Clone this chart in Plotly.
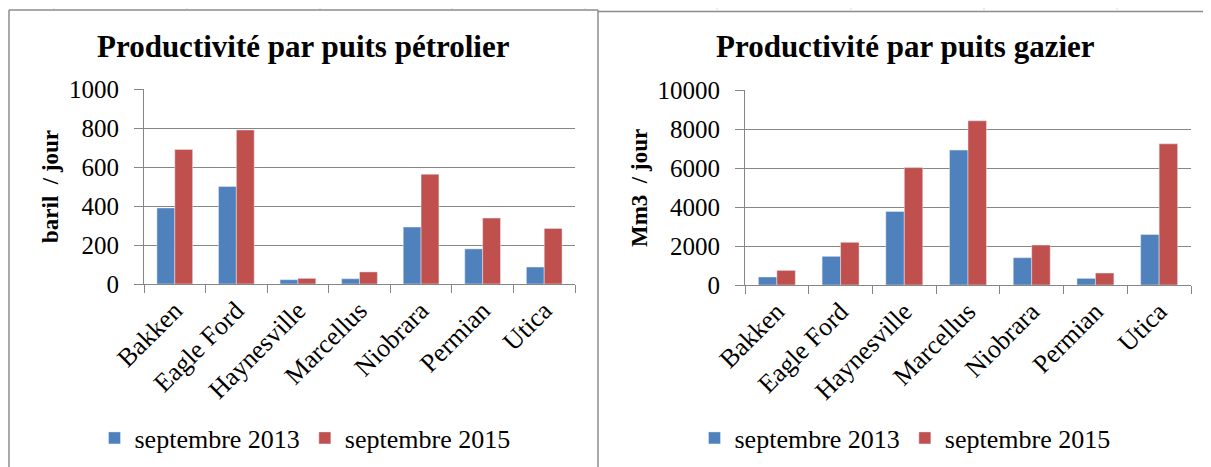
import plotly.graph_objects as go

# ---- data ----
basins = ["Bakken", "Eagle Ford", "Haynesville", "Marcellus", "Niobrara", "Permian", "Utica"]
series_names = ["septembre 2013", "septembre 2015"]
oil_2013 = [390, 500, 22, 27, 292, 180, 87]
oil_2015 = [690, 790, 29, 62, 563, 338, 285]
gas_2013 = [410, 1470, 3770, 6920, 1400, 340, 2590]
gas_2015 = [750, 2190, 6020, 8420, 2050, 615, 7240]
oil_ticks = [0, 200, 400, 600, 800, 1000]
gas_ticks = [0, 2000, 4000, 6000, 8000, 10000]
oil_title = "Productivité par puits pétrolier"
gas_title = "Productivité par puits gazier"
oil_unit = "baril  / jour"
gas_unit = "Mm3  / jour"

BLUE = "#4F81BD"
RED = "#C0504D"
FONT = "Liberation Serif"
OFF = 8                      # page body margin
W, H = 1211 - OFF, 467 - OFF

fig = go.Figure()
fig.add_trace(go.Bar(x=basins, y=oil_2013, name=series_names[0], marker_color=BLUE,
                     xaxis="x", yaxis="y", legend="legend"))
fig.add_trace(go.Bar(x=basins, y=oil_2015, name=series_names[1], marker_color=RED,
                     xaxis="x", yaxis="y", legend="legend"))
fig.add_trace(go.Bar(x=basins, y=gas_2013, name=series_names[0], marker_color=BLUE,
                     xaxis="x2", yaxis="y2", legend="legend2"))
fig.add_trace(go.Bar(x=basins, y=gas_2015, name=series_names[1], marker_color=RED,
                     xaxis="x2", yaxis="y2", legend="legend2"))

def px(x):
    return (x - OFF) / W

def py(y):
    return 1 - (y - OFF) / H

axis_common = dict(showline=True, linecolor="#868686", linewidth=1, automargin=False,
                   tickfont=dict(family=FONT, size=25, color="black"))
xcommon = dict(axis_common, tickangle=-45, ticks="outside", tickson="boundaries",
               ticklen=8, tickcolor="#868686", showgrid=False, fixedrange=True,
               tickfont=dict(family=FONT, size=26, color="black"))
ycommon = dict(axis_common, ticks="outside", ticklen=9, tickcolor="#868686",
               showgrid=True, gridcolor="#868686", gridwidth=1, zeroline=False,
               ticklabelstandoff=10, tickformat="d", fixedrange=True)

fig.update_layout(
    width=W, height=H,
    margin=dict(l=0, r=0, t=0, b=0, autoexpand=False),
    paper_bgcolor="white", plot_bgcolor="white",
    barmode="group", bargap=0.42, bargroupgap=0,
    font=dict(family=FONT, color="black"),
    xaxis=dict(xcommon, domain=[px(144), px(575)], anchor="y"),
    yaxis=dict(ycommon, domain=[py(284), py(89)], anchor="x",
               range=[0, 1000], tickvals=oil_ticks),
    xaxis2=dict(xcommon, domain=[px(745), px(1191)], anchor="y2"),
    yaxis2=dict(ycommon, domain=[py(285), py(90)], anchor="x2",
                range=[0, 10000], tickvals=gas_ticks),
    legend=dict(orientation="h", x=px(305), xanchor="center", y=py(438), yanchor="middle",
                font=dict(family=FONT, size=26), itemwidth=30, tracegroupgap=0,
                bgcolor="rgba(0,0,0,0)"),
    legend2=dict(orientation="h", x=px(905), xanchor="center", y=py(438), yanchor="middle",
                 font=dict(family=FONT, size=26), itemwidth=30, tracegroupgap=0,
                 bgcolor="rgba(0,0,0,0)"),
    annotations=[
        dict(text="<b>%s</b>" % oil_title, x=px(303), y=py(46), xref="paper", yref="paper",
             showarrow=False, font=dict(family=FONT, size=31), xanchor="center", yanchor="middle"),
        dict(text="<b>%s</b>" % gas_title, x=px(905), y=py(46), xref="paper", yref="paper",
             showarrow=False, font=dict(family=FONT, size=31), xanchor="center", yanchor="middle"),
        dict(text="<b>%s</b>" % oil_unit, x=px(50), y=py(187), xref="paper", yref="paper",
             showarrow=False, font=dict(family=FONT, size=23), textangle=-90,
             xanchor="center", yanchor="middle"),
        dict(text="<b>%s</b>" % gas_unit, x=px(640), y=py(188), xref="paper", yref="paper",
             showarrow=False, font=dict(family=FONT, size=23), textangle=-90,
             xanchor="center", yanchor="middle"),
    ],
)

# chart frames and faint spreadsheet cell lines
shapes = []
for gx in [54, 187, 320, 452, 585, 717, 851, 984, 1117]:
    shapes.append(dict(type="line", xref="paper", yref="paper", x0=px(gx), x1=px(gx),
                       y0=py(OFF), y1=py(10), line=dict(color="#D9D9D9", width=1)))
shapes.append(dict(type="line", xref="paper", yref="paper", x0=px(9), x1=px(9),
                   y0=py(10), y1=py(467), line=dict(color="#8C8C8C", width=1.5)))
shapes.append(dict(type="line", xref="paper", yref="paper", x0=px(9), x1=px(598),
                   y0=py(10), y1=py(10), line=dict(color="#8C8C8C", width=1.5)))
shapes.append(dict(type="line", xref="paper", yref="paper", x0=px(598), x1=px(598),
                   y0=py(10), y1=py(467), line=dict(color="#8C8C8C", width=1.5)))
shapes.append(dict(type="line", xref="paper", yref="paper", x0=px(598), x1=px(1211),
                   y0=py(11.5), y1=py(11.5), line=dict(color="#8C8C8C", width=1.5)))
fig.update_layout(shapes=shapes)

fig.write_html("out.html", config={"displayModeBar": False})
